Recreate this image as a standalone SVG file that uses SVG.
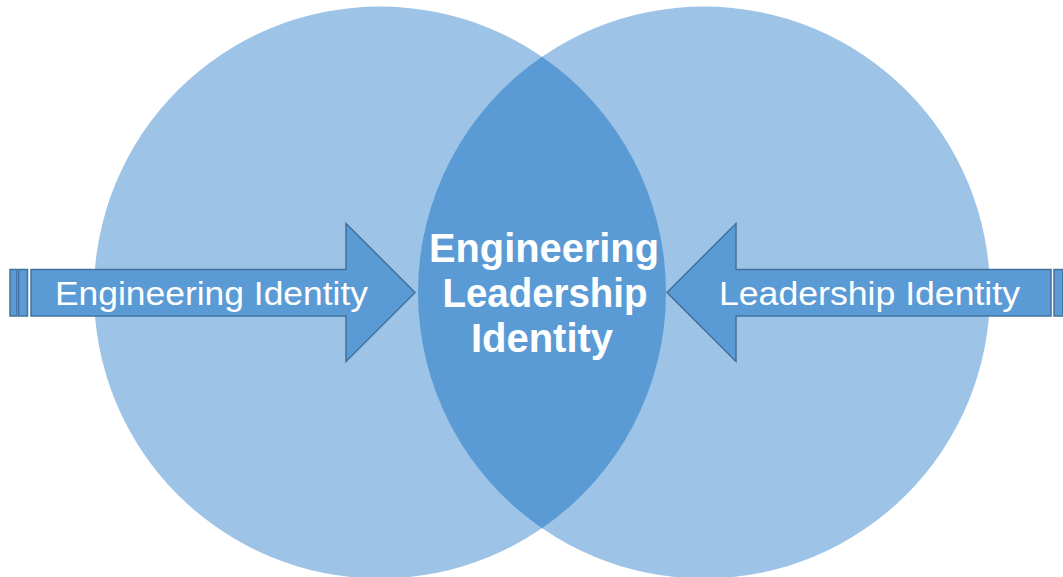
<svg xmlns="http://www.w3.org/2000/svg" width="1063" height="577" viewBox="0 0 1063 577">
  <style>
    .circle { fill: #9DC3E6; }
    .lens { fill: #5B9BD5; }
    .arrow { fill: #5B9BD5; stroke: #41719C; stroke-width: 1.5; stroke-linejoin: miter; }
    .label { font-family: "Liberation Sans", Arial, sans-serif; font-size: 34px; fill: #FFFFFF; }
    .core { font-family: "Liberation Sans", Arial, sans-serif; font-size: 40px; font-weight: bold; fill: #FFFFFF; text-anchor: middle; }
  </style>
  <rect width="1063" height="577" fill="#FFFFFF"/>

  <g id="engineering-circle">
    <circle class="circle" cx="380" cy="292.5" r="286"/>
  </g>
  <g id="leadership-circle">
    <circle class="circle" cx="704" cy="292.5" r="286"/>
  </g>
  <g id="overlap">
    <path class="lens" d="M542,56.8 A286,286 0 0 1 542,528.2 A286,286 0 0 1 542,56.8 Z"/>
    <text class="core" x="544" y="262" textLength="230" lengthAdjust="spacingAndGlyphs">Engineering</text>
    <text class="core" x="545" y="307" textLength="205" lengthAdjust="spacingAndGlyphs">Leadership</text>
    <text class="core" x="542" y="352">Identity</text>
  </g>

  <g id="connectors">
    <g id="engineering-arrow">
      <rect class="arrow" x="10" y="269.5" width="7" height="46.5"/>
      <rect class="arrow" x="18.5" y="269.5" width="9" height="46.5"/>
      <polygon class="arrow" points="31,269.5 346,269.5 346,223.5 415,292.5 346,361.5 346,316 31,316"/>
      <text class="label" x="55" y="305" textLength="313" lengthAdjust="spacingAndGlyphs">Engineering Identity</text>
    </g>
    <g id="leadership-arrow">
      <rect class="arrow" x="1054" y="269.5" width="9" height="46.5"/>
      <polygon class="arrow" points="667,292.5 736,223.5 736,269.5 1051,269.5 1051,316 736,316 736,361.5"/>
      <text class="label" x="719" y="305" textLength="301" lengthAdjust="spacingAndGlyphs">Leadership Identity</text>
    </g>
  </g>
</svg>
